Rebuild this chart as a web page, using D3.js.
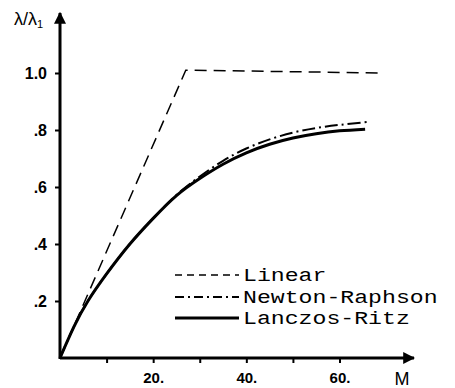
<!DOCTYPE html>
<html>
<head>
<meta charset="utf-8">
<script src="https://cdn.jsdelivr.net/npm/d3@7"></script>
<style>
  body { margin: 0; background: #fff; }
  .tick text { font-family: "Liberation Sans", Arial, sans-serif; font-weight: bold; fill: #000; }
  .tick line { stroke: #000; stroke-width: 2; }
</style>
</head>
<body>
<script>
// data
var xTicks = [10, 20, 30, 40, 50, 60];
var xLabels = ["", "20.", "", "40.", "", "60."];
var yTicks = [0.2, 0.4, 0.6, 0.8, 1.0];
var yLabels = [".2", ".4", ".6", ".8", "1.0"];

var linearM = [0, 27, 69];
var linearV = [0, 1.01, 1.0];

var nrM = [0, 3, 6, 10, 15, 20, 25, 30, 35, 40, 45, 50, 55, 60, 66.5];
var nrV = [0, 0.11, 0.2, 0.295, 0.40, 0.49, 0.572, 0.637, 0.692, 0.735, 0.767, 0.791, 0.807, 0.818, 0.829];

var lrM = [0, 3, 6, 10, 15, 20, 25, 30, 35, 40, 45, 50, 55, 60, 65.5];
var lrV = [0, 0.11, 0.2, 0.295, 0.40, 0.49, 0.57, 0.63, 0.68, 0.72, 0.75, 0.772, 0.787, 0.797, 0.803];

var legendNames = ["Linear", "Newton-Raphson", "Lanczos-Ritz"];

var w = 455, h = 388;
var svg = d3.select("body").append("svg")
  .attr("width", w)
  .attr("height", h);

var x = d3.scaleLinear().domain([0, 60]).range([60, 339.5]);
var y = d3.scaleLinear().domain([0, 1]).range([358, 73]);

// ticks
var xAxis = d3.axisBottom(x).tickValues(xTicks)
  .tickFormat(function(d, i){ return xLabels[i]; })
  .tickSize(5).tickPadding(9);
svg.append("g").attr("transform", "translate(0,358)").call(xAxis)
  .call(function(g){ g.select(".domain").remove(); g.selectAll("text").attr("font-size", 15); });

var yAxis = d3.axisLeft(y).tickValues(yTicks)
  .tickFormat(function(d, i){ return yLabels[i]; })
  .tickSize(5).tickPadding(8);
svg.append("g").attr("transform", "translate(60,0)").call(yAxis)
  .call(function(g){ g.select(".domain").remove(); g.selectAll("text").attr("font-size", 16); });

// axis lines with arrows
svg.append("defs").append("marker")
  .attr("id", "arr").attr("viewBox", "0 0 10 10")
  .attr("refX", 9).attr("refY", 5)
  .attr("markerWidth", 4).attr("markerHeight", 4)
  .attr("markerUnits", "strokeWidth")
  .attr("orient", "auto")
  .append("path").attr("d", "M0,0 L10,5 L0,10 z").attr("fill", "#000");

svg.append("line").attr("x1", x(0)).attr("y1", y(0)).attr("x2", 414).attr("y2", y(0))
  .attr("stroke", "#000").attr("stroke-width", 3).attr("marker-end", "url(#arr)");
svg.append("line").attr("x1", x(0)).attr("y1", y(0) + 1).attr("x2", x(0)).attr("y2", 13)
  .attr("stroke", "#000").attr("stroke-width", 3).attr("marker-end", "url(#arr)");

// axis titles
var yt = svg.append("text")
  .attr("x", 14).attr("y", 25)
  .attr("font-family", "Liberation Sans, Arial, sans-serif")
  .attr("font-size", 18);
yt.append("tspan").text("λ/λ");
yt.append("tspan").attr("font-size", 11).attr("dy", 3).text("1");

svg.append("text").attr("x", 402).attr("y", 385)
  .attr("text-anchor", "middle")
  .attr("font-family", "Liberation Sans, Arial, sans-serif")
  .attr("font-size", 18)
  .text("M");

// curves
var line = d3.line()
  .x(function(d){ return x(d[0]); })
  .y(function(d){ return y(d[1]); })
  .curve(d3.curveLinear);

function pairs(ms, vs){ return ms.map(function(m, i){ return [m, vs[i]]; }); }

svg.append("path").datum(pairs(linearM, linearV))
  .attr("d", line)
  .attr("fill", "none").attr("stroke", "#000")
  .attr("stroke-width", 1.5).attr("stroke-dasharray", "12,7");

line.curve(d3.curveNatural);

svg.append("path").datum(pairs(nrM, nrV))
  .attr("d", line)
  .attr("fill", "none").attr("stroke", "#000")
  .attr("stroke-width", 2).attr("stroke-dasharray", "13,4,2,4");

svg.append("path").datum(pairs(lrM, lrV))
  .attr("d", line)
  .attr("fill", "none").attr("stroke", "#000")
  .attr("stroke-width", 3);

// legend
var legY = [275, 297, 318];
var dashes = ["7,5", "9,4,2,4", null];
var widths = [1.5, 2, 3];
legendNames.forEach(function(name, i){
  var l = svg.append("line")
    .attr("x1", 175).attr("x2", 239)
    .attr("y1", legY[i]).attr("y2", legY[i])
    .attr("stroke", "#000").attr("stroke-width", widths[i]);
  if (dashes[i]) l.attr("stroke-dasharray", dashes[i]);
  svg.append("text")
    .attr("x", 243).attr("y", legY[i] + 6)
    .attr("font-family", "Liberation Mono, Courier New, monospace")
    .attr("font-size", 19)
    .attr("textLength", name.length * 13.9)
    .attr("lengthAdjust", "spacingAndGlyphs")
    .text(name);
});
</script>
</body>
</html>
